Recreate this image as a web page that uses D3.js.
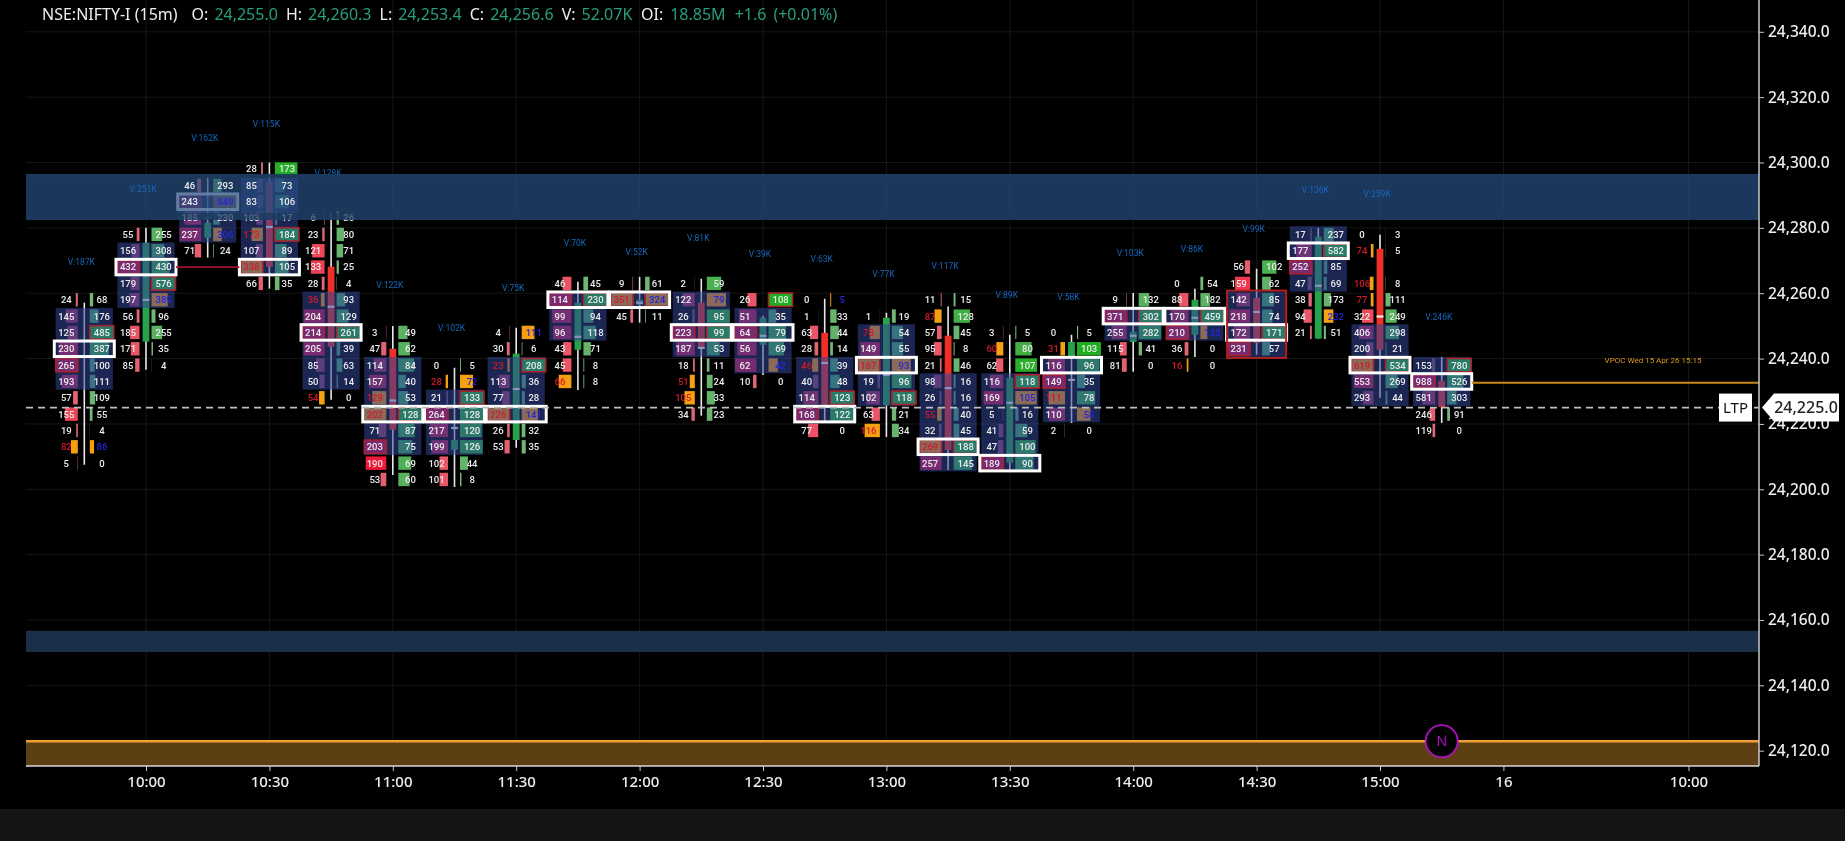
<!DOCTYPE html>
<html>
<head>
<meta charset="utf-8">
<script src="https://cdn.jsdelivr.net/npm/d3@7"></script>
<style>
  html, body { margin: 0; padding: 0; background: #000; }
  svg { display: block; filter: blur(0.4px); }
  text { font-family: Roboto, sans-serif; }
</style>
</head>
<body>
<script>
// footprint rows, top row first. null = price level with no prints
const topBins = [24255, 24275, 24290, 24295, 24280, 24245, 24235, 24245, 24260, 24260, 24260, 24255,
  24255, 24250, 24255, 24245, 24245, 24255, 24260, 24265, 24275, 24275, 24235]
const bidVol = [
  [24, 145, 125, 230, 265, 193, 57, 155, 19, 82, 5],
  [55, 156, 432, 179, 197, 56, 185, 171, 85],
  [46, 243, 185, 237, 71],
  [28, 85, 83, 103, 173, 107, 338, 66],
  [6, 23, 121, 133, 28, 36, 204, 214, 205, 85, 50, 54],
  [3, 47, 114, 157, 129, 202, 71, 203, 190, 53],
  [0, 28, 21, 264, 217, 199, 102, 101],
  [4, 30, 23, 113, 77, 226, 26, 53],
  [46, 114, 99, 96, 43, 45, 66],
  [9, 351, 45],
  [2, 122, 26, 223, 187, 18, 51, 105, 34],
  [26, 51, 64, 56, 62, 10],
  [0, 1, 63, 28, 46, 40, 114, 168, 77],
  [1, 78, 149, 167, 19, 102, 63, 116],
  [11, 87, 57, 95, 21, 98, 26, 55, 32, 269, 257],
  [3, 60, 62, 116, 169, 5, 41, 47, 189],
  [0, 31, 116, 149, 111, 110, 2],
  [9, 371, 255, 115, 81],
  [0, 88, 170, 210, 36, 16],
  [56, 159, 142, 218, 172, 231],
  [17, 177, 252, 47, 38, 94, 21],
  [0, 74, null, 106, 77, 322, 406, 200, 619, 553, 293],
  [153, 988, 581, 246, 119]
]
const askVol = [
  [68, 176, 485, 387, 100, 111, 109, 55, 4, 86, 0],
  [255, 308, 430, 576, 389, 96, 255, 35, 4],
  [293, 849, 230, 306, 24],
  [173, 73, 106, 17, 184, 89, 105, 35],
  [26, 80, 71, 25, 4, 93, 129, 261, 39, 63, 14, 0],
  [49, 62, 84, 40, 53, 128, 87, 75, 69, 60],
  [5, 72, 133, 128, 120, 126, 44, 8],
  [111, 6, 208, 36, 28, 141, 32, 35],
  [45, 230, 94, 118, 71, 8, 8],
  [61, 324, 11],
  [59, 79, 95, 99, 53, 11, 24, 33, 23],
  [108, 35, 79, 69, 42, 0],
  [5, 33, 44, 14, 39, 48, 123, 122, 0],
  [19, 54, 55, 93, 96, 118, 21, 34],
  [15, 128, 45, 8, 46, 16, 16, 40, 45, 188, 145],
  [5, 80, 107, 118, 105, 16, 59, 100, 90],
  [5, 103, 96, 35, 78, 58, 0],
  [132, 302, 282, 41, 0],
  [54, 182, 459, 133, 0, 0],
  [102, 62, 85, 74, 171, 57],
  [237, 582, 85, 69, 173, 232, 51],
  [3, 5, null, 8, 111, 249, 298, 21, 534, 269, 44],
  [780, 526, 303, 91, 0]
]
// o = orange print, b = brown print, g = boxed print outside the value area
const bidKinds = ['.........o.', '', '', '....b.b.', '.....b.....o', '....bb....', '.o......', '..b..b..', '......o',
  '.b.', '......oo.', '', '....b....', '.b.b...o', '.o.....b.b.', '.o.......', '.o..b..', '', '.....o', '', '',
  '.o.oo...b..', '']
const askKinds = ['.........o.', '....b....', '.b.b.', '', '', '', '.o......', 'o....b..', '',
  '.b.', '.b.......', 'g...b.', 'o........', '...b....', '', '....b....', '.....b.', '', '...b..', '', '.....o.',
  '', '']
// value area as first/last row index, point of control as row index
const vaFirst = [1, 1, 1, 1, 5, 2, 2, 2, 1, 1, 1, 1, 4, 1, 5, 3, 2, 1, 2, 2, 0, 6, 0]
const vaLast = [5, 4, 3, 6, 10, 7, 5, 5, 3, 1, 4, 4, 7, 5, 10, 8, 5, 2, 3, 5, 3, 10, 2]
const pocRow = [3, 2, 1, 6, 7, 5, 3, 5, 1, 1, 3, 2, 7, 3, 9, 8, 2, 1, 2, 4, 1, 8, 1]
const boxedValueArea = [19]

const openPx = [24243, 24245.2, 24277, 24294.1, 24268.1, 24243, 24212.1, 24215.1, 24242.7, 24256.5, 24257.1, 24244.2,
  24247.9, 24225.8, 24247, 24208.1, 24240.5, 24245.1, 24247.3, 24258.6, 24246.1, 24273.6, 24233.2]
const highPx = [24257.1, 24280, 24295.4, 24300, 24284.6, 24250, 24237.2, 24249.4, 24263.5, 24265, 24264.4, 24253.1,
  24258.3, 24254, 24255.9, 24247.3, 24247.3, 24260.1, 24261.4, 24267.5, 24280, 24277.9, 24240.5]
const lowPx = [24207.5, 24236.6, 24270.9, 24261.4, 24227.4, 24204.4, 24200.7, 24212.7, 24230.4, 24251, 24222.5, 24235,
  24220.6, 24216, 24205.9, 24205.9, 24220.3, 24236, 24240.5, 24241.2, 24246.1, 24228, 24220.3]
const closePx = [24243, 24275.4, 24281.6, 24268.1, 24243.6, 24218.2, 24215.1, 24241.5, 24257.1, 24258, 24243.3, 24252.5,
  24225.2, 24252.5, 24212, 24234.1, 24245.1, 24248.2, 24258, 24244.8, 24277.3, 24242.7, 24225.2]
const vwapPx = [null, 24258, 24283.1, 24280.3, 24255.9, 24227.2, 24218.8, 24230.7, 24246.7, 24257.1, 24243.3, 24247,
  24238.7, 24235, 24231, 24226.5, 24233.5, 24247, 24252.5, 24254.3, 24262.3, 24252.9, null]

const volLabels = ['V:187K', 'V:251K', 'V:162K', 'V:115K', 'V:128K', 'V:122K', 'V:102K', 'V:75K', 'V:70K', 'V:52K', 'V:81K',
  'V:39K', 'V:63K', 'V:77K', 'V:117K', 'V:89K', 'V:58K', 'V:103K', 'V:86K', 'V:99K', 'V:136K', 'V:259K', 'V:246K']
const volLabelPx = [24269.6, 24292, 24307.6, 24311.9, 24296.9, 24262.6, 24249.4, 24261.7, 24275.4, 24272.7, 24277, 24272.1,
  24270.6, 24266, 24268.4, 24259.5, 24258.9, 24272.4, 24273.6, 24279.6, 24291.7, 24290.5, 24252.8]

const priceTicks = d3.range(24120, 24341, 20)
const timeTickBars = [1, 3, 5, 7, 9, 11, 13, 15, 17, 19, 21, 23, 26]
const timeTickLabels = ['10:00', '10:30', '11:00', '11:30', '12:00', '12:30', '13:00', '13:30', '14:00', '14:30', '15:00', '16', '10:00']

const zones = [[24296.5, 24282.4], [24156.7, 24150.2]]
const supplyZone = [24122.9, 24115.3]
const ltp = 24225
const vpocPx = 24232.6
const vpocLabelPx = 24239.6
const nakedPoc = { from: 1, to: 3 }
const header = [
  ['NSE:NIFTY-I (15m)', 0, '#f0f0f0'], ['O:', 14, '#f0f0f0'], ['24,255.0', 6, '#2a9d7f'], ['H:', 8, '#f0f0f0'], ['24,260.3', 6, '#2a9d7f'],
  ['L:', 8, '#f0f0f0'], ['24,253.4', 6, '#2a9d7f'], ['C:', 8, '#f0f0f0'], ['24,256.6', 6, '#2a9d7f'], ['V:', 8, '#f0f0f0'],
  ['52.07K', 6, '#2a9d7f'], ['OI:', 9, '#f0f0f0'], ['18.85M', 7, '#2a9d7f'], ['+1.6', 9, '#2a9d7f'], ['(+0.01%)', 7, '#2a9d7f']
]

const W = 1845
const H = 841
const plot = { left: 26, right: 1759, bottom: 766, footer: 809 }
const rowCentre = 3 // bin label sits this many points above the bin floor
const binSize = 5

const y = d3.scaleLinear().domain([24120, 24340]).range([750.7, 31.8])
const x = d3.scaleLinear().domain([0, 26]).range([84.3, 1688.5])
const rowHeight = y(0) - y(binSize)

const bidRamp = d3.scaleLinear().domain([0, 0.5, 1]).range(['#d8707f', '#ee4f60', '#f01030'])
const askRamp = d3.scaleLinear().domain([0, 0.5, 1]).range(['#7fb884', '#55b05a', '#1fae1f'])
const bidVaRamp = d3.scaleLinear().domain([0, 1]).range(['#4b4a86', '#7a2a70'])
const askVaRamp = d3.scaleLinear().domain([0, 1]).range(['#41708f', '#2a7a68'])

const svg = d3.select('body').append('svg').attr('width', W).attr('height', H)
svg.append('rect').attr('width', W).attr('height', H).attr('fill', '#000')
svg.append('rect').attr('y', plot.footer).attr('width', W).attr('height', H - plot.footer).attr('fill', '#131416')

// grid
svg.append('g').selectAll('line').data(priceTicks).join('line')
  .attr('x1', plot.left).attr('x2', plot.right).attr('y1', d => y(d)).attr('y2', d => y(d)).attr('stroke', '#161616')
svg.append('g').selectAll('line').data(timeTickBars).join('line')
  .attr('x1', d => x(d)).attr('x2', d => x(d)).attr('y1', 0).attr('y2', plot.bottom).attr('stroke', '#161616')

const barIndex = d3.range(bidVol.length)

// candles go under the value area so its tint shows over them
const candles = svg.append('g')
barIndex.forEach(i => {
  const up = closePx[i] >= openPx[i]
  const g = candles.append('g')
  g.append('line').attr('x1', x(i)).attr('x2', x(i)).attr('y1', y(highPx[i])).attr('y2', y(lowPx[i]))
    .attr('stroke', '#e8e8e8').attr('stroke-width', 1.6)
  g.append('rect').attr('x', x(i) - 3.4).attr('width', 6.8)
    .attr('y', y(Math.max(openPx[i], closePx[i])))
    .attr('height', Math.abs(y(openPx[i]) - y(closePx[i])))
    .attr('fill', up ? '#27a24a' : '#ee3026')
  if (vwapPx[i] !== null) {
    g.append('rect').attr('x', x(i) - 3.4).attr('width', 6.8).attr('y', y(vwapPx[i]) - 1).attr('height', 2.2).attr('fill', '#f4f4f4')
  }
})

function rowY (i, r) {
  return y(topBins[i] - r * binSize + rowCentre)
}

// value area, prints and boxes
const prints = svg.append('g')
barIndex.forEach(i => {
  const g = prints.append('g')
  const cx = x(i)
  g.append('rect').attr('x', cx - 28.6).attr('width', 57.2)
    .attr('y', rowY(i, vaFirst[i]) - rowHeight / 2)
    .attr('height', (vaLast[i] - vaFirst[i] + 1) * rowHeight)
    .attr('fill', 'rgb(50,70,150)').attr('fill-opacity', 0.55)

  const bidW = d3.scaleLinear().domain([0, d3.max(bidVol[i])]).range([0, 22])
  const askW = d3.scaleLinear().domain([0, d3.max(askVol[i])]).range([0, 24])

  bidVol[i].forEach((v, r) => {
    if (v === null || v === 0) return
    const inVa = r >= vaFirst[i] && r <= vaLast[i]
    const ratio = v / d3.max(bidVol[i])
    const kind = (bidKinds[i] || '')[r] || '.'
    const fill = kind === 'o' ? '#f5a010' : kind === 'b' ? '#8a6a58' : inVa ? bidVaRamp(ratio) : bidRamp(ratio)
    g.append('rect').attr('x', cx - 6.5 - bidW(v)).attr('width', bidW(v))
      .attr('y', rowY(i, r) - 6.7).attr('height', 13.4).attr('fill', fill)
      .attr('stroke', (inVa && ratio === 1) ? '#a8202c' : 'none').attr('stroke-width', 1.6)
  })
  askVol[i].forEach((v, r) => {
    if (v === null || v === 0) return
    const inVa = r >= vaFirst[i] && r <= vaLast[i]
    const ratio = v / d3.max(askVol[i])
    const kind = (askKinds[i] || '')[r] || '.'
    const fill = kind === 'o' ? '#f5a010' : kind === 'b' ? '#8a6a58' : inVa ? askVaRamp(ratio) : askRamp(ratio)
    g.append('rect').attr('x', cx + 5.5).attr('width', askW(v))
      .attr('y', rowY(i, r) - 6.7).attr('height', 13.4).attr('fill', fill)
      .attr('stroke', ((inVa && ratio === 1) || kind === 'g') ? '#a8202c' : 'none').attr('stroke-width', 1.6)
  })

  g.append('rect').attr('x', cx - 30).attr('width', 60)
    .attr('y', rowY(i, pocRow[i]) - rowHeight / 2 + 0.4).attr('height', rowHeight - 0.8)
    .attr('fill', 'none').attr('stroke', '#fff').attr('stroke-width', 3)

  if (boxedValueArea.includes(i)) {
    g.append('rect').attr('x', cx - 29.5).attr('width', 59)
      .attr('y', rowY(i, vaFirst[i]) - rowHeight / 2 - 1)
      .attr('height', (vaLast[i] - vaFirst[i] + 1) * rowHeight + 2)
      .attr('fill', 'none').attr('stroke', '#b02020').attr('stroke-width', 2)
  }
})

// naked poc between the two boxes
svg.append('line')
  .attr('x1', x(nakedPoc.from) + 30).attr('x2', x(nakedPoc.to) - 30)
  .attr('y1', rowY(nakedPoc.from, pocRow[nakedPoc.from])).attr('y2', rowY(nakedPoc.from, pocRow[nakedPoc.from]))
  .attr('stroke', '#a01030').attr('stroke-width', 1.6)

// zones sit over the prints but under the numbers
svg.append('g').selectAll('rect').data(zones).join('rect')
  .attr('x', plot.left).attr('width', plot.right - plot.left)
  .attr('y', d => y(d[0])).attr('height', d => y(d[1]) - y(d[0]))
  .attr('fill', (d, i) => i === 0 ? '#274c80' : '#1a3048').attr('fill-opacity', (d, i) => i === 0 ? 0.72 : 1)

svg.append('rect').attr('x', plot.left).attr('width', plot.right - plot.left)
  .attr('y', y(supplyZone[0])).attr('height', plot.bottom - y(supplyZone[0])).attr('fill', '#5c3f12')
svg.append('line').attr('x1', plot.left).attr('x2', plot.right)
  .attr('y1', y(supplyZone[0])).attr('y2', y(supplyZone[0])).attr('stroke', '#f0a030').attr('stroke-width', 2.4)

// numbers
const numbers = svg.append('g').attr('font-size', 9.5).attr('font-weight', 500).attr('text-anchor', 'middle')
barIndex.forEach(i => {
  const cx = x(i)
  const addText = (list, kinds, dx, special) => list.forEach((v, r) => {
    if (v === null) return
    const kind = (kinds[i] || '')[r] || '.'
    numbers.append('text').attr('x', cx + dx).attr('y', rowY(i, r)).attr('dy', '0.36em')
      .attr('fill', (kind === 'o' || kind === 'b') ? special : '#ececec').text(v)
  })
  addText(bidVol[i], bidKinds, -18, '#d4182c')
  addText(askVol[i], askKinds, 17.6, '#2626dc')
})

svg.append('g').attr('font-size', 8.5).attr('text-anchor', 'middle').attr('fill', '#1768bd')
  .selectAll('text').data(volLabels).join('text')
  .attr('x', (d, i) => x(i) - 3).attr('y', (d, i) => y(volLabelPx[i])).attr('dy', '0.36em').text(d => d)

// the upper zone edges fade whatever crosses them
const upperZone = zones[0]
svg.append('rect').attr('x', plot.left).attr('width', plot.right - plot.left)
  .attr('y', y(upperZone[0])).attr('height', 4).attr('fill', '#1c385c').attr('fill-opacity', 0.85)
svg.append('rect').attr('x', plot.left).attr('width', plot.right - plot.left)
  .attr('y', y(upperZone[1]) - 7).attr('height', 7).attr('fill', '#1c385c').attr('fill-opacity', 0.72)

// session vpoc
const lastBar = barIndex.length - 1
svg.append('line').attr('x1', x(lastBar) + 30).attr('x2', plot.right)
  .attr('y1', y(vpocPx)).attr('y2', y(vpocPx))
  .attr('stroke', '#c8861c').attr('stroke-width', 1.8)
svg.append('text').attr('x', 1653).attr('y', y(vpocLabelPx)).attr('dy', '0.36em').attr('text-anchor', 'middle')
  .attr('font-size', 8).attr('fill', '#d99a1e').text('VPOC Wed 15 Apr 26 15:15')

// last price line
svg.append('line').attr('x1', plot.left).attr('x2', plot.right).attr('y1', y(ltp)).attr('y2', y(ltp))
  .attr('stroke', '#bdbdbd').attr('stroke-width', 1.8).attr('stroke-dasharray', '7 5')

// axes
const yAxis = d3.axisRight(y).tickValues(priceTicks).tickFormat(d3.format(',.1f')).tickSize(5).tickPadding(4)
const yG = svg.append('g').attr('transform', `translate(${plot.right},0)`).call(yAxis)
yG.select('.domain').remove()
yG.selectAll('.tick line').attr('stroke', '#c8c8c8')
yG.selectAll('.tick text').attr('fill', '#eee').attr('font-size', 15.5).attr('font-weight', 500)
  .style('font-family', '"Noto Sans", sans-serif')
svg.append('line').attr('x1', plot.right).attr('x2', plot.right).attr('y1', 0).attr('y2', plot.bottom).attr('stroke', '#c8c8c8').attr('stroke-width', 1.5)

const xAxis = d3.axisBottom(x).tickValues(timeTickBars).tickFormat((d, i) => timeTickLabels[i]).tickSize(5).tickPadding(5)
const xG = svg.append('g').attr('transform', `translate(0,${plot.bottom})`).call(xAxis)
xG.select('.domain').remove()
xG.selectAll('.tick line').attr('stroke', '#c8c8c8')
xG.selectAll('.tick text').attr('fill', '#eee').attr('font-size', 15).attr('font-weight', 500)
  .style('font-family', '"Noto Sans", sans-serif')
svg.append('line').attr('x1', plot.left).attr('x2', plot.right).attr('y1', plot.bottom).attr('y2', plot.bottom).attr('stroke', '#d8d8d8').attr('stroke-width', 1.5)

// LTP tags
const tagY = y(ltp)
svg.append('rect').attr('x', 1719).attr('y', tagY - 14).attr('width', 33).attr('height', 28).attr('fill', '#fff')
svg.append('text').attr('x', 1735.5).attr('y', tagY).attr('dy', '0.36em').attr('text-anchor', 'middle')
  .attr('font-size', 15).attr('fill', '#111').style('font-family', '"Noto Sans", sans-serif').text('LTP')
svg.append('path').attr('d', `M1762,${tagY} L1774,${tagY - 14} H1839 V${tagY + 14} H1774 Z`).attr('fill', '#fff')
svg.append('text').attr('x', 1806).attr('y', tagY).attr('dy', '0.36em').attr('text-anchor', 'middle')
  .attr('font-size', 16).attr('font-weight', 500).attr('fill', '#222').style('font-family', '"Noto Sans", sans-serif').text(d3.format(',.1f')(ltp))

// news marker
svg.append('circle').attr('cx', x(lastBar)).attr('cy', y(supplyZone[0])).attr('r', 16)
  .attr('fill', '#000').attr('stroke', '#b010c0').attr('stroke-width', 1.8)
svg.append('text').attr('x', x(lastBar)).attr('y', y(supplyZone[0])).attr('dy', '0.36em').attr('text-anchor', 'middle')
  .attr('font-size', 14).attr('fill', '#b010c0').style('font-family', '"Noto Sans", sans-serif').text('N')

// header
const head = svg.append('text').attr('x', 42).attr('y', 20).attr('font-size', 16).style('font-family', '"Noto Sans", sans-serif')
header.forEach(d => {
  head.append('tspan').attr('dx', d[1]).attr('fill', d[2]).text(d[0])
})
</script>
</body>
</html>
